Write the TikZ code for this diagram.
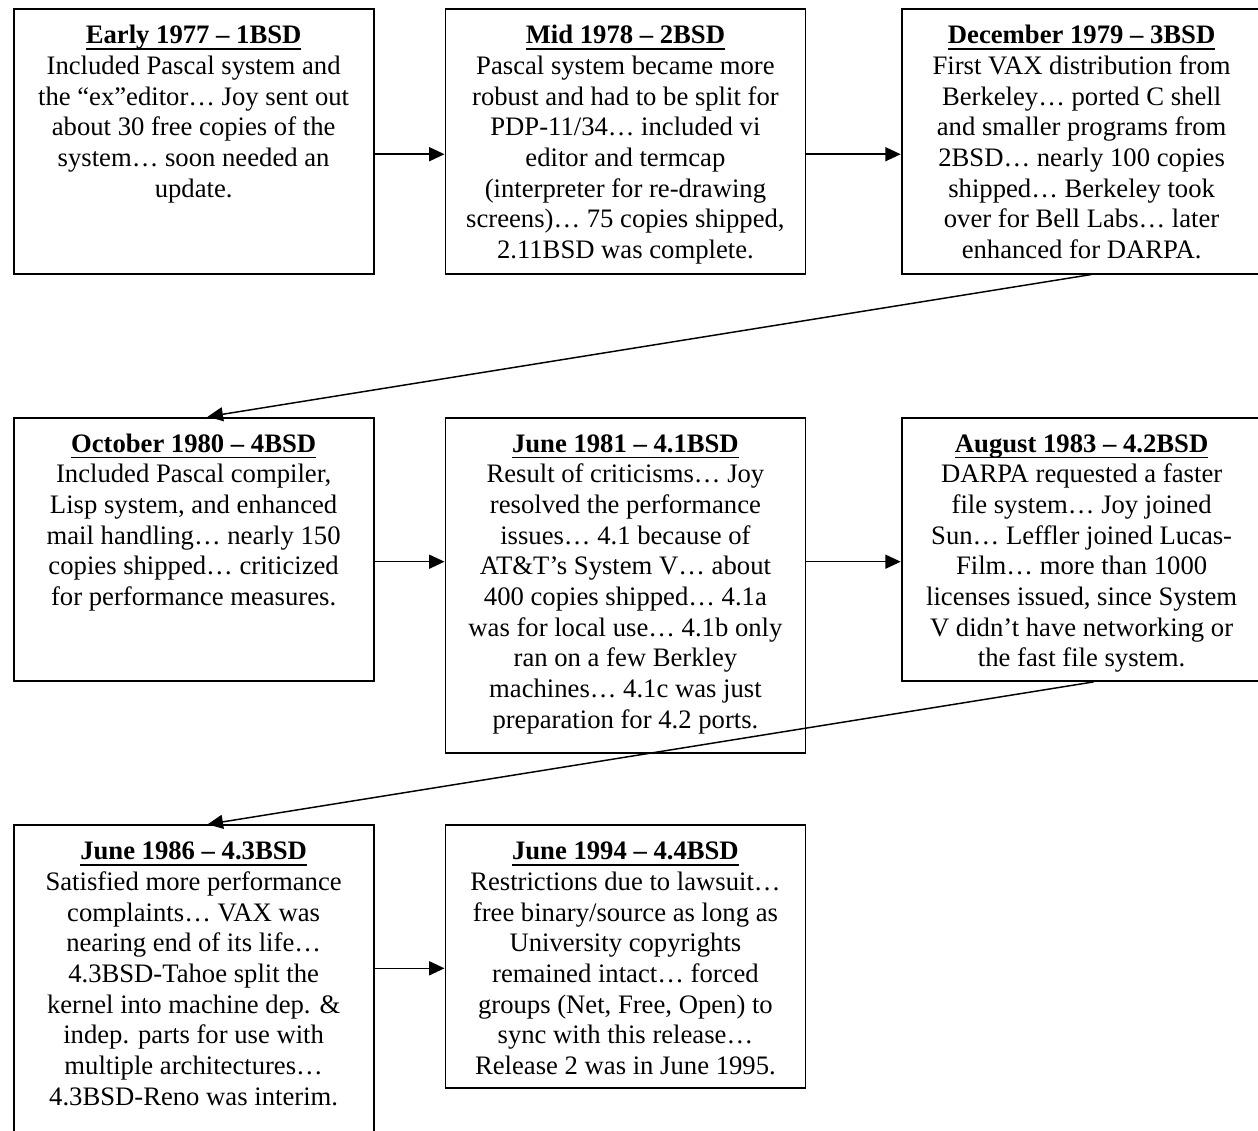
\documentclass[tikz,border=0pt]{standalone}
\usepackage{fontspec}
\setmainfont{Liberation Serif}
\usetikzlibrary{arrows.meta,calc}
\newcommand\ulx[1]{\setbox0\hbox{#1}\rlap{\rule[-4.5pt]{\wd0}{1.3pt}}\box0}
\newcommand\evtbox[3]{\parbox[t][#1][t]{270pt}{\centering\rule{0pt}{26pt}\textbf{\ulx{#2}}\\#3}}
\tikzset{
  evt/.style={draw, line width=1.4pt, inner sep=0pt, anchor=north west,
    font=\fontsize{20}{23}\selectfont},
  arr/.style={line width=1.1pt, -{Triangle[length=11.5pt,width=10.5pt]}}
}
\begin{document}
\begin{tikzpicture}[x=0.75pt,y=-0.75pt]
\useasboundingbox (0,0) rectangle (1258,1131);
\clip (0,0) rectangle (1258,1131);
\node[evt] (b1) at (12.7,8.3) {\evtbox{198.3pt}{Early 1977 – 1BSD}{Included Pascal system and\\the “ex”editor… Joy sent out\\about 30 free copies of the\\system… soon needed an\\update.}};
\node[evt] (b2) at (444.5,8.3) {\evtbox{198.3pt}{Mid 1978 – 2BSD}{Pascal system became more\\robust and had to be split for\\PDP-11/34… included vi\\editor and termcap\\(interpreter for re-drawing\\screens)… 75 copies shipped,\\2.11BSD was complete.}};
\node[evt] (b3) at (900.7,8.3) {\evtbox{198.3pt}{December 1979 – 3BSD}{First VAX distribution from\\Berkeley… ported C shell\\and smaller programs from\\2BSD… nearly 100 copies\\shipped… Berkeley took\\over for Bell Labs… later\\enhanced for DARPA.}};
\node[evt] (b4) at (12.7,416.7) {\evtbox{197.5pt}{October 1980 – 4BSD}{Included Pascal compiler,\\Lisp system, and enhanced\\mail handling… nearly 150\\copies shipped… criticized\\for performance measures.}};
\node[evt] (b5) at (444.5,416.7) {\evtbox{251.2pt}{June 1981 – 4.1BSD}{Result of criticisms… Joy\\resolved the performance\\issues… 4.1 because of\\AT\&T’s System V… about\\400 copies shipped… 4.1a\\was for local use… 4.1b only\\ran on a few Berkley\\machines… 4.1c was just\\preparation for 4.2 ports.}};
\node[evt] (b6) at (900.7,416.7) {\evtbox{197.5pt}{August 1983 – 4.2BSD}{DARPA requested a faster\\file system… Joy joined\\Sun… Leffler joined Lucas-\\Film… more than 1000\\licenses issued, since System\\V didn’t have networking or\\the fast file system.}};
\node[evt] (b7) at (12.7,824.3) {\evtbox{250pt}{June 1986 – 4.3BSD}{Satisfied more performance\\complaints… VAX was\\nearing end of its life…\\4.3BSD-Tahoe split the\\kernel into machine dep. \&\\indep. parts for use with\\multiple architectures…\\4.3BSD-Reno was interim.}};
\node[evt] (b8) at (444.5,824.3) {\evtbox{197.3pt}{June 1994 – 4.4BSD}{Restrictions due to lawsuit…\\free binary/source as long as\\University copyrights\\remained intact… forced\\groups (Net, Free, Open) to\\sync with this release…\\Release 2 was in June 1995.}};
\coordinate (p1) at ($(b1.east)+(0,12.8)$);
\coordinate (p2) at ($(b4.east)+(0,12.4)$);
\coordinate (p3) at ($(b7.north east)+(0,144)$);
\draw[arr] (p1) -- (p1 -| b2.west);
\draw[arr] (p1 -| b2.east) -- (p1 -| b3.west);
\draw[arr] (p2) -- (p2 -| b5.west);
\draw[arr] (p2 -| b5.east) -- (p2 -| b6.west);
\draw[arr] (p3) -- (p3 -| b8.west);
\draw[arr] ($(b3.south)+(9.5,0)$) -- ($(b4.north)+(14,0)$);
\draw[arr] ($(b6.south)+(12,0)$) -- ($(b7.north)+(14,0)$);
\end{tikzpicture}
\end{document}
